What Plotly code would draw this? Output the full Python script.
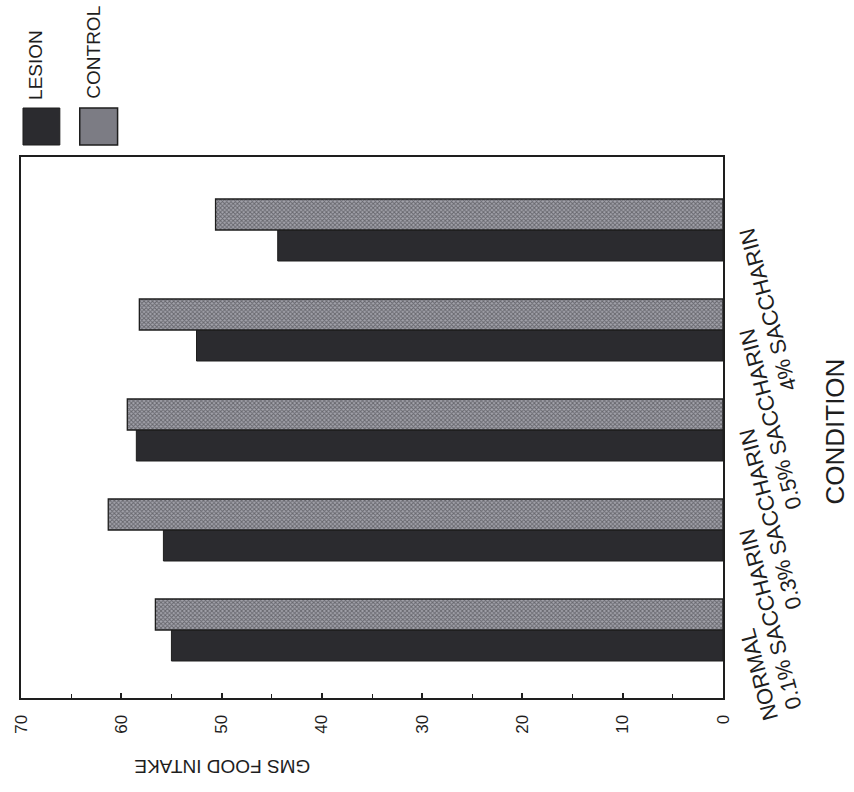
import plotly.graph_objects as go

# ---- data ----
conditions = ["NORMAL", "0.1% SACCHARIN", "0.3% SACCHARIN", "0.5% SACCHARIN", "4% SACCHARIN"]
lesion = [55.0, 55.8, 58.5, 52.5, 44.4]
control = [56.6, 61.3, 59.4, 58.2, 50.6]
series_names = ["LESION", "CONTROL"]
x_ticks = [0, 10, 20, 30, 40, 50, 60, 70]
x_title = "GMS FOOD INTAKE"
y_title = "CONDITION"

# ---- layout geometry (pixels) ----
W, H = 854, 792
L, R, T, B = 18, 723, 157, 698
FONT = "Liberation Sans, Arial, sans-serif"
INK = "#1e1e1e"

def px(xp):
    return (xp - L) / (R - L)

def py(yp):
    return (B - yp) / (B - T)

fig = go.Figure()
fig.add_trace(go.Bar(
    y=list(range(len(conditions))), x=lesion, orientation="h", name=series_names[0],
    marker=dict(color="#2b2b2f", line=dict(color=INK, width=1)),
))
fig.add_trace(go.Bar(
    y=list(range(len(conditions))), x=control, orientation="h", name=series_names[1],
    marker=dict(color="#9a9aa2", line=dict(color=INK, width=1.3),
                pattern=dict(shape="x", fgcolor="#2a2a30", bgcolor="#a4a4ac",
                             size=3, solidity=0.55)),
))

annotations = []
# category labels (slanted)
for i, c in enumerate(conditions):
    annotations.append(dict(
        text=c, x=px(732), xref="paper", y=i + 0.06, yref="y",
        xanchor="left", yanchor="top", textangle=-105, showarrow=False,
        font=dict(family=FONT, size=22, color=INK)))
# axis titles
annotations.append(dict(text=y_title, x=px(835), y=py(432), xref="paper", yref="paper",
                        xanchor="center", yanchor="middle",
                        textangle=-90, showarrow=False,
                        font=dict(family=FONT, size=26, color=INK)))
annotations.append(dict(text=x_title, x=px(220), y=py(767), xref="paper", yref="paper",
                        xanchor="center", yanchor="middle",
                        textangle=180, showarrow=False,
                        font=dict(family=FONT, size=19, color=INK)))
# legend labels
annotations.append(dict(text=series_names[0], x=px(32), y=py(65), xref="paper", yref="paper",
                        xanchor="center", yanchor="middle",
                        textangle=-90, showarrow=False,
                        font=dict(family=FONT, size=19, color=INK)))
annotations.append(dict(text=series_names[1], x=px(91), y=py(52), xref="paper", yref="paper",
                        xanchor="center", yanchor="middle",
                        textangle=-90, showarrow=False,
                        font=dict(family=FONT, size=19, color=INK)))

shapes = [
    dict(type="rect", xref="paper", yref="paper", x0=px(20), x1=px(57), y0=py(145), y1=py(108),
         fillcolor="#2b2b2f", line=dict(color=INK, width=1)),
    dict(type="rect", xref="paper", yref="paper", x0=px(77), x1=px(115), y0=py(145), y1=py(108),
         fillcolor="#7c7c84", line=dict(color=INK, width=1.5)),
]

fig.update_layout(
    width=W, height=H,
    margin=dict(l=L, r=W - R, t=T, b=H - B),
    paper_bgcolor="white", plot_bgcolor="white",
    barmode="group", bargap=0.38, bargroupgap=0.0,
    showlegend=False,
    annotations=annotations, shapes=shapes,
    font=dict(family=FONT, color=INK),
)
fig.update_xaxes(
    range=[70, 0], tickvals=x_ticks, ticktext=[str(v) for v in x_ticks],
    tickangle=-90, ticks="inside", ticklen=5, tickwidth=1.5, tickcolor=INK,
    minor=dict(ticks="inside", ticklen=4, tickwidth=1.2, tickcolor=INK, dtick=5),
    showline=True, linecolor=INK, linewidth=2, mirror=True,
    showgrid=False, zeroline=False,
    tickfont=dict(family=FONT, size=17, color=INK), ticklabelstandoff=8,
)
fig.update_yaxes(
    range=[-0.68, 4.73], showticklabels=False, ticks="",
    showline=True, linecolor=INK, linewidth=2, mirror=True,
    showgrid=False, zeroline=False,
)

fig.write_html("out.html")
